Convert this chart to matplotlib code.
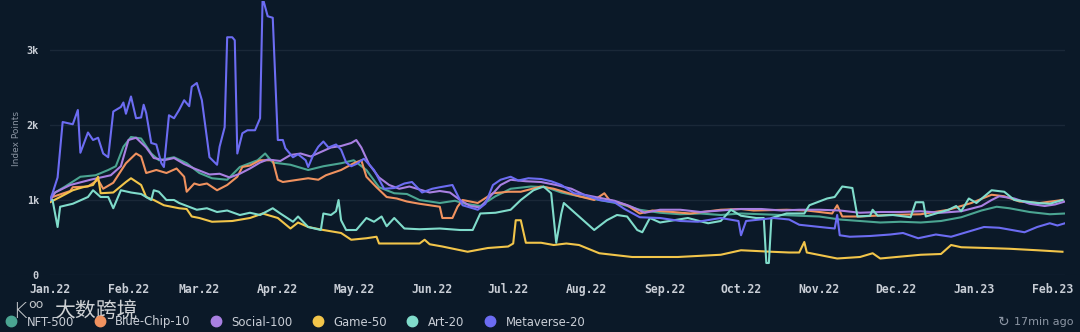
import numpy as np
import pandas as pd
import matplotlib
matplotlib.use("Agg")
import matplotlib.pyplot as plt
import matplotlib.dates as mdates
from matplotlib.lines import Line2D
from matplotlib.ticker import FixedLocator, FuncFormatter

# ── 資料（日數自 2022-01-01 起算，單位：Index Points）──────────────
START = pd.Timestamp("2022-01-01")

NFT_DAYS = [0, 2, 6, 12, 18, 23, 26, 29, 32, 36, 40, 43, 49, 54, 59, 64, 70, 75, 82, 85,
            88, 95, 102, 108, 115, 120, 125, 130, 136, 141, 146, 154, 160, 164, 170, 176, 182, 190, 196, 202,
            209, 217, 225, 233, 241, 249, 257, 265, 273, 281, 289, 296, 304, 312, 320, 328, 336, 344, 352, 360,
            368, 374, 379, 387, 395, 401]
NFT_VALS = [1000, 1100, 1180, 1310, 1330, 1400, 1450, 1710, 1840, 1820, 1620, 1530, 1570, 1490, 1360, 1290, 1270, 1440, 1530, 1620,
            1500, 1470, 1400, 1450, 1490, 1530, 1400, 1170, 1090, 1080, 1000, 960, 990, 950, 920, 1050, 1150, 1180, 1170, 1100,
            1050, 1000, 950, 870, 830, 810, 820, 800, 820, 810, 800, 790, 780, 740, 720, 700, 710, 700, 720, 770,
            860, 910, 890, 840, 810, 820]

BC_DAYS = [0, 1, 8, 9, 15, 19, 21, 25, 30, 34, 36, 38, 42, 46, 50, 53, 54, 57, 59, 62,
           66, 70, 74, 76, 79, 83, 88, 90, 92, 98, 102, 106, 109, 115, 120, 123, 125, 129, 133, 137,
           141, 146, 154, 155, 159, 161, 163, 169, 175, 181, 186, 194, 199, 204, 209, 215, 219, 221, 228, 233,
           238, 246, 253, 265, 273, 278, 291, 299, 309, 311, 313, 320, 331, 344, 355, 364, 372, 377, 383, 391, 400]
BC_VALS = [1000, 1040, 1120, 1170, 1180, 1270, 1150, 1230, 1490, 1620, 1580, 1360, 1400, 1360, 1420, 1310, 1110, 1220, 1200, 1220,
           1130, 1200, 1310, 1440, 1460, 1530, 1530, 1270, 1240, 1270, 1290, 1270, 1330, 1400, 1490, 1530, 1310, 1170, 1040, 1020,
           980, 950, 910, 760, 760, 910, 1000, 960, 1090, 1110, 1110, 1180, 1150, 1100, 1050, 1000, 1090, 1000, 930, 820,
           860, 840, 820, 870, 880, 860, 870, 860, 820, 930, 780, 780, 800, 810, 870, 960, 1070, 1050, 980, 960, 1000]

SOC_DAYS = [0, 2, 8, 16, 24, 28, 31, 34, 38, 41, 45, 49, 53, 57, 63, 67, 71, 75, 79, 83,
            86, 91, 95, 99, 103, 107, 111, 115, 119, 121, 123, 126, 130, 134, 138, 142, 146, 150, 154, 158,
            162, 166, 170, 174, 178, 182, 188, 194, 200, 206, 211, 217, 223, 229, 235, 241, 249, 257, 265, 273,
            281, 289, 296, 304, 312, 320, 328, 336, 344, 352, 360, 368, 372, 375, 381, 387, 393, 397, 401]
SOC_VALS = [1000, 1100, 1200, 1270, 1330, 1450, 1800, 1830, 1700, 1560, 1530, 1560, 1480, 1420, 1340, 1350, 1300, 1350, 1420, 1500,
            1540, 1520, 1600, 1620, 1580, 1640, 1700, 1720, 1760, 1800, 1700, 1480, 1300, 1200, 1150, 1180, 1140, 1100, 1120, 1100,
            1000, 920, 900, 1050, 1200, 1270, 1250, 1240, 1200, 1150, 1070, 1030, 990, 920, 830, 870, 870, 840, 860, 880,
            880, 860, 870, 870, 860, 830, 840, 840, 850, 830, 850, 920, 1000, 1050, 1020, 950, 920, 940, 980]

GAME_DAYS = [0, 4, 9, 13, 17, 19, 20, 25, 30, 32, 36, 38, 41, 45, 51, 54, 56, 59, 64, 72,
             79, 84, 90, 95, 98, 102, 108, 115, 119, 125, 129, 130, 136, 141, 146, 148, 150, 155, 165, 173,
             181, 183, 184, 186, 188, 194, 199, 204, 209, 217, 230, 248, 265, 273, 285, 292, 296, 298, 299, 311,
             320, 325, 328, 344, 352, 356, 360, 370, 379, 390, 400]
GAME_VALS = [970, 1040, 1130, 1170, 1200, 1310, 1090, 1100, 1240, 1290, 1200, 1040, 1000, 930, 890, 880, 780, 760, 710, 720,
             760, 820, 760, 620, 700, 640, 600, 560, 470, 490, 510, 420, 420, 420, 420, 470, 410, 380, 310, 360,
             380, 420, 730, 730, 430, 430, 400, 420, 400, 290, 240, 240, 270, 330, 310, 300, 300, 440, 300, 220,
             240, 290, 220, 270, 280, 400, 370, 360, 350, 330, 310]

ART_DAYS = [0, 1, 3, 4, 9, 15, 17, 20, 23, 25, 28, 32, 36, 40, 41, 43, 46, 49, 51, 58,
            62, 66, 70, 75, 79, 83, 88, 91, 96, 98, 102, 107, 108, 111, 113, 114, 115, 117, 121, 125,
            128, 131, 133, 136, 140, 146, 154, 162, 167, 170, 176, 182, 186, 191, 195, 198, 200, 202, 203, 206,
            209, 215, 220, 224, 228, 232, 234, 237, 241, 252, 260, 265, 269, 273, 279, 282, 283, 284, 285, 291,
            298, 300, 307, 310, 313, 317, 319, 324, 325, 327, 333, 340, 342, 345, 346, 355, 358, 360, 363, 366,
            372, 377, 381, 390, 395, 400]
ART_VALS = [1000, 1000, 640, 910, 950, 1040, 1130, 1040, 1040, 890, 1130, 1100, 1080, 1000, 1130, 1110, 1000, 1000, 960, 870,
            890, 840, 860, 800, 830, 800, 890, 820, 710, 780, 640, 600, 820, 800, 850, 1000, 730, 600, 600, 760,
            710, 780, 650, 760, 620, 610, 620, 600, 600, 820, 830, 870, 1000, 1130, 1180, 1090, 430, 820, 960, 870,
            780, 600, 730, 800, 780, 600, 570, 760, 700, 760, 690, 720, 870, 790, 760, 760, 160, 160, 760, 820,
            820, 930, 1020, 1040, 1180, 1160, 780, 790, 870, 790, 800, 770, 970, 970, 780, 870, 920, 850, 1020, 960,
            1130, 1110, 1000, 960, 950, 1000]

META_DAYS = [0, 1, 3, 5, 9, 11, 12, 15, 17, 19, 21, 23, 25, 28, 29, 30, 32, 34, 36, 37,
             38, 40, 42, 44, 45, 47, 49, 51, 53, 55, 56, 58, 60, 63, 66, 67, 69, 70, 72, 73,
             74, 76, 78, 81, 83, 84, 86, 88, 90, 92, 93, 96, 98, 101, 102, 104, 106, 108, 110, 113,
             115, 117, 119, 121, 124, 128, 132, 136, 140, 143, 147, 151, 154, 159, 163, 166, 169, 172, 175, 178,
             182, 185, 189, 194, 198, 202, 207, 211, 217, 223, 227, 233, 241, 249, 256, 265, 272, 273, 275, 286,
             292, 296, 307, 310, 311, 312, 316, 324, 332, 337, 343, 350, 356, 362, 369, 375, 385, 390, 395, 398, 401]
META_VALS = [1000, 1090, 1300, 2040, 2010, 2200, 1630, 1900, 1800, 1830, 1620, 1570, 2180, 2240, 2300, 2150, 2380, 2090, 2100, 2270,
             2160, 1760, 1740, 1490, 1440, 2130, 2090, 2200, 2330, 2250, 2510, 2560, 2330, 1570, 1470, 1710, 1970, 3170, 3170, 3130,
             1620, 1890, 1930, 1930, 2090, 3700, 3450, 3430, 1800, 1800, 1690, 1570, 1610, 1530, 1440, 1600, 1710, 1780, 1700, 1740,
             1670, 1500, 1450, 1480, 1550, 1400, 1150, 1160, 1220, 1240, 1100, 1150, 1170, 1200, 930, 900, 870, 950, 1200, 1270,
             1310, 1260, 1290, 1280, 1250, 1200, 1090, 1070, 1000, 970, 880, 770, 760, 720, 710, 760, 720, 530, 720, 760,
             740, 670, 630, 620, 800, 530, 510, 520, 540, 560, 490, 540, 510, 570, 640, 630, 570, 640, 690, 660, 690]

SERIES = [
    ("NFT-500",      NFT_DAYS,  NFT_VALS,  "#4ba592"),
    ("Blue-Chip-10", BC_DAYS,   BC_VALS,   "#f0925f"),
    ("Social-100",   SOC_DAYS,  SOC_VALS,  "#a980e2"),
    ("Game-50",      GAME_DAYS, GAME_VALS, "#f2c54a"),
    ("Art-20",       ART_DAYS,  ART_VALS,  "#80dccb"),
    ("Metaverse-20", META_DAYS, META_VALS, "#6c6cf2"),
]

Y_TICKS  = [0, 1000, 2000, 3000]
Y_LABELS = ["0", "1k", "2k", "3k"]

BG      = "#0b1928"
GRID    = "#1a2838"
TXT     = "#c9ced6"
SUBTXT  = "#8b95a3"

# ── 繪圖 ─────────────────────────────────────────────────────────
fig = plt.figure(figsize=(10.8, 3.32), dpi=100, facecolor=BG)
ax = fig.add_axes([50 / 1080, 57 / 332, 1015 / 1080, 274 / 332], facecolor=BG)

for name, days, vals, color in SERIES:
    dates = START + pd.to_timedelta(days, unit="D")
    ax.plot(dates, vals, color=color, lw=1.5, solid_joinstyle="round")

ax.set_xlim(START, START + pd.Timedelta(days=401))
ax.set_ylim(0, 274 / 75 * 1000)

ax.yaxis.set_major_locator(FixedLocator(Y_TICKS))
ax.yaxis.set_major_formatter(FuncFormatter(lambda v, p: Y_LABELS[Y_TICKS.index(int(v))] if int(v) in Y_TICKS else ""))
ax.xaxis.set_major_locator(mdates.MonthLocator())
ax.xaxis.set_major_formatter(mdates.DateFormatter("%b.%y"))

ax.grid(axis="y", color=GRID, lw=1.0)
ax.set_axisbelow(True)
for s in ax.spines.values():
    s.set_visible(False)
ax.tick_params(length=0, colors=TXT)
for lab in ax.get_xticklabels():
    lab.set_fontfamily("DejaVu Sans Mono"); lab.set_fontweight("bold"); lab.set_fontsize(8.3)
for lab in ax.get_yticklabels():
    lab.set_fontfamily("DejaVu Sans Mono"); lab.set_fontweight("bold"); lab.set_fontsize(7.3)
ax.tick_params(axis="x", pad=6)
ax.tick_params(axis="y", pad=8)
ax.set_ylabel("Index Points", color=SUBTXT, fontsize=6.5, labelpad=4)

# 圖例
handles = [Line2D([], [], ls="none", marker="o", ms=7.5, mfc=c, mec=c) for _, _, _, c in SERIES]
labels = [n for n, _, _, _ in SERIES]
leg = fig.legend(handles, labels, loc="center left", bbox_to_anchor=(2 / 1080, 10 / 332),
                 ncol=6, frameon=False, fontsize=8.4, handlelength=0.8, handletextpad=0.95,
                 columnspacing=1.75, borderaxespad=0)
for t in leg.get_texts():
    t.set_color(TXT)

# 更新時間
fig.text(1073 / 1080, 10 / 332, "17min ago", color=SUBTXT, fontsize=8, ha="right", va="center")
fig.text(1004 / 1080, 10 / 332, "↻", color=SUBTXT, fontsize=10, ha="center", va="center")

# 浮水印
fig.text(12 / 1080, 20 / 332, "K", color="white", alpha=0.75, fontsize=16, ha="left", va="center",
         fontweight="light")
fig.text(28 / 1080, 27 / 332, "oo", color="white", alpha=0.75, fontsize=9, ha="left", va="center")
fig.text(54 / 1080, 20 / 332, "大数跨境", color="white", alpha=0.8, fontsize=15, ha="left", va="center",
         family=["Noto Sans CJK SC", "DejaVu Sans"])

fig.savefig("out.png", dpi=100, facecolor=BG)
